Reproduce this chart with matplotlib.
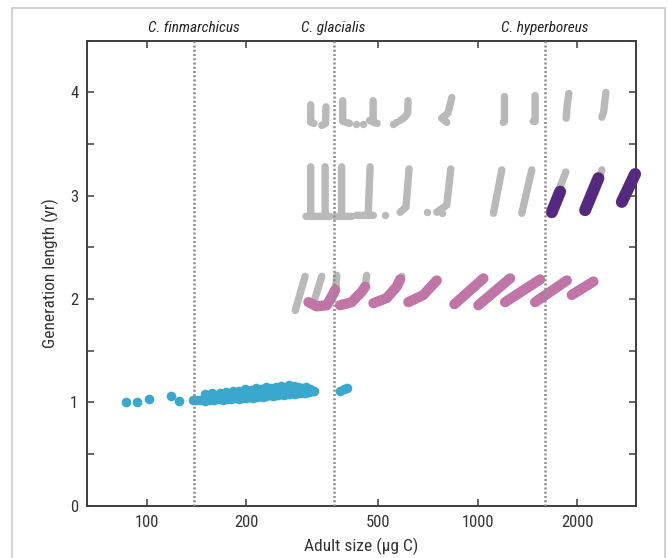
import numpy as np
import matplotlib
matplotlib.use("Agg")
from matplotlib import pyplot as plt
from matplotlib import font_manager as fm
from matplotlib.ticker import FixedLocator, MultipleLocator, NullLocator
from matplotlib.patches import Rectangle

# condensed sans, take what is installed
installed = set(f.name for f in fm.fontManager.ttflist)
for fam in ['Roboto Condensed', 'Archivo Narrow', 'Barlow Semi Condensed', 'Liberation Sans Narrow']:
    if fam in installed:
        break
else:
    fam = 'DejaVu Sans'
plt.rcParams['font.family'] = [fam, 'DejaVu Sans']

nan = np.nan

# species boundaries (adult size, ug C)
species = ["C. finmarchicus", "C. glacialis", "C. hyperboreus"]
species_x = [138.6, 367, 1592]

x_ticks = [100, 200, 500, 1000, 2000]
y_ticks = [0, 1, 2, 3, 4]

# grey tracks (nan separates strokes)
gray_x = [313, 313, 320, nan, 348, 347, 338, nan, 391, 391, 410, nan,
          483, 483, 497, nan, 616, 614, 602, 584, nan, 835, 813, 778, 806, nan,
          1204, 1204, 1195, nan, 1490, 1490, 1470, nan, 1884, 1860, 1849, nan,
          2437, 2400, 2370, nan,
          313, 313, nan, 303, 358, nan, 346, 346, nan, 388, 388, nan, 371, 416, nan,
          473, 467, nan, 431, 484, nan, 620, 607, 583, nan, 829, 806, 752, nan,
          1182, 1115, nan, 1456, 1358, nan, 1845, 1764, nan, 2370, 2330, nan,
          301, 281, nan, 338, 319, nan, 375, 371, nan, 462, 457, nan, 590, 583]
gray_y = [3.88, 3.71, 3.70, nan, 3.86, 3.70, 3.68, nan, 3.92, 3.72, 3.70, nan,
          3.92, 3.71, 3.70, nan, 3.92, 3.80, 3.76, 3.73, nan, 3.95, 3.80, 3.75, 3.71, nan,
          3.96, 3.72, 3.71, nan, 3.97, 3.72, 3.72, nan, 3.99, 3.86, 3.75, nan,
          4.00, 3.81, 3.76, nan,
          3.28, 2.81, nan, 2.80, 2.80, nan, 3.28, 2.81, nan, 3.28, 2.81, nan, 2.80, 2.80, nan,
          3.28, 2.84, nan, 2.81, 2.81, nan, 3.26, 2.89, 2.84, nan, 3.26, 2.91, 2.84, nan,
          3.25, 2.83, nan, 3.25, 2.83, nan, 3.23, 3.07, nan, 3.25, 3.18, nan,
          2.22, 1.89, nan, 2.22, 1.96, nan, 2.23, 2.05, nan, 2.23, 2.12, nan, 2.22, 2.18]
gray_dot_x = [429, 449, 470, 555, 565, 525, 701, 778]
gray_dot_y = [3.69, 3.69, 3.73, 3.69, 3.71, 2.81, 2.84, 2.83]

# pink tracks
pink_x = [308, 326, 350, 366, 371, nan, 384, 416, 446, 457, nan,
          484, 531, 569, 583, nan, 617, 685, 752, nan,
          850, 1040, nan, 1004, 1252, nan, 1209, 1543, nan, 1490, 1858, nan, 1923, 2235]
pink_y = [1.97, 1.93, 1.94, 2.05, 2.09, nan, 1.94, 1.97, 2.07, 2.12, nan,
          1.96, 2.01, 2.12, 2.19, nan, 1.97, 2.04, 2.18, nan,
          1.95, 2.20, nan, 1.94, 2.20, nan, 1.97, 2.19, nan, 1.97, 2.18, nan, 2.04, 2.17]

# purple tracks
purple_x = [1673, 1773, nan, 2110, 2314, nan, 2723, 2987]
purple_y = [2.84, 3.04, nan, 2.86, 3.17, nan, 2.94, 3.21]

# blue individuals
blue_x = [86.6, 93.3, 101.8, 118.4, 125.2, 137.7,
          141, 145, 150, 155, 160, 165, 170, 175, 180, 185, 190, 195, 200, 205,
          210, 215, 220, 225, 230, 235, 240, 245, 250, 255, 260, 265, 270, 275,
          280, 285, 290, 295, 300, 305, 310, 315, 320,
          150, 158, 166, 174, 182, 190, 198, 206, 214, 222, 230, 238, 246, 254,
          262, 270, 278, 286, 294, 302, 312,
          160, 180, 200, 220, 240, 260, 280, 300,
          384, 395, 402]
blue_y = [1.00, 1.00, 1.03, 1.06, 1.01, 1.02,
          1.02, 1.02, 1.01, 1.02, 1.02, 1.03, 1.02, 1.03, 1.03, 1.04, 1.03, 1.04, 1.04, 1.05,
          1.04, 1.05, 1.06, 1.05, 1.06, 1.07, 1.06, 1.07, 1.07, 1.08, 1.07, 1.08, 1.08, 1.09,
          1.08, 1.09, 1.09, 1.10, 1.09, 1.10, 1.10, 1.11, 1.11,
          1.08, 1.09, 1.09, 1.10, 1.11, 1.11, 1.13, 1.12, 1.14, 1.13, 1.15, 1.14, 1.15, 1.16,
          1.15, 1.17, 1.16, 1.15, 1.14, 1.15, 1.13,
          1.06, 1.07, 1.09, 1.10, 1.11, 1.12, 1.12, 1.12,
          1.11, 1.13, 1.14]

GRAY = "#b9b9b9"
PINK = "#c175a7"
PURPLE = "#55297f"
BLUE = "#3aa7cd"
AXC = "#3d3d3d"

fig = plt.figure(figsize=(6.68, 5.58), dpi=100)
ax = fig.add_axes([0.1298, 0.0937, 0.8219, 0.8333])

# outer frame
fig.patches.append(Rectangle((12/668, -0.05), 653/668, 1.05 - 8/558, transform=fig.transFigure,
                             fill=False, edgecolor="#c9c9c9", linewidth=1.2))

ax.plot(gray_x, gray_y, color=GRAY, linewidth=5.3, solid_capstyle="round",
        solid_joinstyle="round", zorder=2)
ax.scatter(gray_dot_x, gray_dot_y, s=28, color=GRAY, linewidths=0, zorder=2)
ax.plot(pink_x, pink_y, color=PINK, linewidth=7.4, solid_capstyle="round",
        solid_joinstyle="round", zorder=3)
ax.plot(purple_x, purple_y, color=PURPLE, linewidth=8.6, solid_capstyle="round",
        solid_joinstyle="round", zorder=4, clip_on=False)
ax.scatter(blue_x, blue_y, s=48, color=BLUE, linewidths=0, zorder=4)

for name, xv in zip(species, species_x):
    ax.axvline(xv, color="#8c8c8c", linewidth=1.8, linestyle=(0, (0.8, 0.9)), zorder=6)
    ax.text(xv, 4.62, name, ha="center", va="center", fontsize=11, style="italic",
            color="#222222")

ax.set_xscale("log")
ax.set_xlim(65.9, 3000)
ax.set_ylim(0, 4.5)
ax.xaxis.set_major_locator(FixedLocator(x_ticks))
ax.xaxis.set_minor_locator(NullLocator())
ax.set_xticklabels([str(t) for t in x_ticks])
ax.yaxis.set_major_locator(FixedLocator(y_ticks))
ax.yaxis.set_minor_locator(MultipleLocator(0.5))

for s in ax.spines.values():
    s.set_color(AXC)
    s.set_linewidth(1.4)
ax.tick_params(which="both", direction="in", top=True, right=True, length=5,
               width=1.1, color=AXC, labelsize=12, labelcolor="#333333")
ax.tick_params(axis="x", pad=7)
ax.tick_params(axis="y", pad=6)

ax.set_xlabel("Adult size (µg C)", fontsize=12.5, color="#333333", labelpad=5)
ax.set_ylabel("Generation length (yr)", fontsize=12.5, color="#333333", labelpad=8)

fig.savefig("out.png", dpi=100, facecolor="white")
